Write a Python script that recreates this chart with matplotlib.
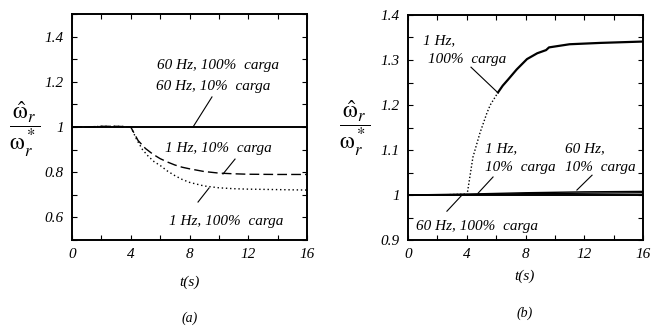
import matplotlib
matplotlib.use("Agg")
import matplotlib.pyplot as plt
from matplotlib.ticker import MultipleLocator

plt.rcParams['font.family'] = ['Liberation Serif', 'DejaVu Serif']
plt.rcParams['mathtext.fontset'] = 'stix'

# (a) velocidad estimada normalizada, cambio de parámetro en t = 4 s
ta_60 = [0, 16]
wa_60_100 = [1.0, 1.0]
wa_60_10 = [1.0, 1.0]
ta_1hz10 = [0, 1, 2, 3, 3.5, 4, 4.5, 5, 5.5, 6, 6.5, 7, 7.5, 8, 9, 10, 11, 12, 14, 16]
wa_1hz10 = [1.0, 1.0, 1.003, 1.003, 1.002, 1.0, 0.94, 0.905, 0.88, 0.86, 0.845,
            0.832, 0.822, 0.815, 0.803, 0.796, 0.793, 0.791, 0.79, 0.79]
ta_1hz100 = [0, 1, 2, 3, 3.5, 4, 4.4, 4.8, 5.2, 5.6, 6, 6.5, 7, 7.5, 8, 9, 10, 11, 12, 14, 16]
wa_1hz100 = [1.0, 1.0, 1.003, 1.003, 1.002, 1.0, 0.945, 0.9, 0.87, 0.846, 0.83,
             0.805, 0.785, 0.768, 0.755, 0.739, 0.731, 0.727, 0.725, 0.723, 0.721]

# (b)
tb_1hz100 = [0, 2, 3, 3.9, 4.02, 4.42, 4.9, 5.37, 5.6, 6.13, 6.45, 6.8, 7.4, 8.1,
             8.8, 9.4, 9.6, 11.0, 13.1, 16]
wb_1hz100 = [1.0, 1.0, 1.001, 1.002, 1.0, 1.084, 1.138, 1.182, 1.2, 1.228, 1.243,
             1.256, 1.279, 1.302, 1.315, 1.322, 1.328, 1.335, 1.338, 1.341]
tb = [0, 4, 8, 12, 16]
wb_1hz10 = [1.0, 1.001, 1.003, 1.004, 1.005]
wb_60_10 = [1.0, 1.002, 1.005, 1.007, 1.008]
wb_60_100 = [1.0, 1.0, 1.0, 1.0, 1.0]

xticks = [0, 4, 8, 12, 16]
ylabel = r'$\dfrac{\hat{\mathrm{\omega}}_r}{\mathrm{\omega}_r^*}$'

fig = plt.figure(figsize=(6.64, 3.27), dpi=100)
ax1 = fig.add_axes([72/664, 87/327, 235/664, 226/327])
ax2 = fig.add_axes([408/664, 87/327, 235/664, 225/327])


def fmt(v, pos):
    if abs(v - round(v)) < 1e-9:
        return str(int(round(v)))
    return f'{v:.1f}'


def estilo(ax, ylim, ymaj, ymin):
    ax.set_xlim(0, 16)
    ax.set_ylim(*ylim)
    ax.set_xticks(xticks)
    ax.xaxis.set_minor_locator(MultipleLocator(2))
    ax.yaxis.set_major_locator(MultipleLocator(ymaj))
    ax.yaxis.set_minor_locator(MultipleLocator(ymin))
    ax.xaxis.set_major_formatter(fmt)
    ax.yaxis.set_major_formatter(fmt)
    ax.tick_params(which='both', direction='in', top=True, right=True,
                   labelsize=11, pad=6, length=3.5, width=0.8)
    for lab in ax.get_xticklabels() + ax.get_yticklabels():
        lab.set_fontstyle('italic')
    for s in ax.spines.values():
        s.set_linewidth(1.4)


ax1.plot(ta_60, wa_60_100, color='black', lw=1.2)
ax1.plot(ta_60, wa_60_10, color='black', lw=1.2)
ax1.plot(ta_1hz10, wa_1hz10, color='black', lw=1.0, dashes=(7, 3))
ax1.plot(ta_1hz100, wa_1hz100, color='black', lw=1.0, dashes=(1, 2))
estilo(ax1, (0.5, 1.5), 0.2, 0.1)
ax1.set_yticks([0.6, 0.8, 1.0, 1.2, 1.4])
for lab in ax1.get_yticklabels():
    lab.set_fontstyle('italic')

ann = dict(fontsize=11, style='italic', ha='center', va='center')
ax1.text(9.94, 1.274, '60 Hz, 100%  carga', **ann)
ax1.text(9.6, 1.181, '60 Hz, 10%  carga', **ann)
ax1.plot([9.53, 8.24], [1.133, 1.0], color='black', lw=0.8)
ax1.text(9.94, 0.907, '1 Hz, 10%  carga', **ann)
ax1.plot([11.1, 10.28], [0.858, 0.792], color='black', lw=0.8)
ax1.text(10.48, 0.58, '1 Hz, 100%  carga', **ann)
ax1.plot([8.58, 9.33], [0.668, 0.73], color='black', lw=0.8)

ax2.plot(tb, wb_60_100, color='black', lw=1.4)
ax2.plot(tb, wb_1hz10, color='black', lw=1.0)
ax2.plot(tb, wb_60_10, color='black', lw=1.0)
ax2.plot(tb_1hz100[:10], wb_1hz100[:10], color='black', lw=1.0, dashes=(1, 1.5))
ax2.plot(tb_1hz100[9:], wb_1hz100[9:], color='black', lw=1.6)
estilo(ax2, (0.9, 1.4), 0.1, 0.05)

left = dict(fontsize=11, style='italic', ha='left', va='center')
ax2.text(1.02, 1.344, '1 Hz,', **left)
ax2.text(1.36, 1.302, '100%  carga', **left)
ax2.plot([4.29, 6.13], [1.284, 1.227], color='black', lw=0.8)
ax2.text(5.24, 1.104, '1 Hz,', **left)
ax2.text(5.24, 1.06, '10%  carga', **left)
ax2.plot([5.79, 4.77], [1.04, 1.004], color='black', lw=0.8)
ax2.text(10.69, 1.104, '60 Hz,', **left)
ax2.text(10.69, 1.06, '10%  carga', **left)
ax2.plot([12.53, 11.5], [1.044, 1.011], color='black', lw=0.8)
ax2.text(0.54, 0.929, '60 Hz, 100%  carga', **left)
ax2.plot([2.65, 3.68], [0.964, 1.0], color='black', lw=0.8)

# etiquetas de ejes y subtítulos
fig.text(25/664, 1 - 129/327, ylabel, fontsize=17, ha='center', va='center')
fig.text(355/664, 1 - 128/327, ylabel, fontsize=17, ha='center', va='center')
fig.text(190/664, 1 - 282/327, 't(s)', fontsize=11, style='italic', ha='center', va='center')
fig.text(525/664, 1 - 276/327, 't(s)', fontsize=11, style='italic', ha='center', va='center')
fig.text(190/664, 1 - 318/327, '(a)', fontsize=10, style='italic', ha='center', va='center')
fig.text(525/664, 1 - 313/327, '(b)', fontsize=10, style='italic', ha='center', va='center')

fig.savefig('out.png', dpi=100)
